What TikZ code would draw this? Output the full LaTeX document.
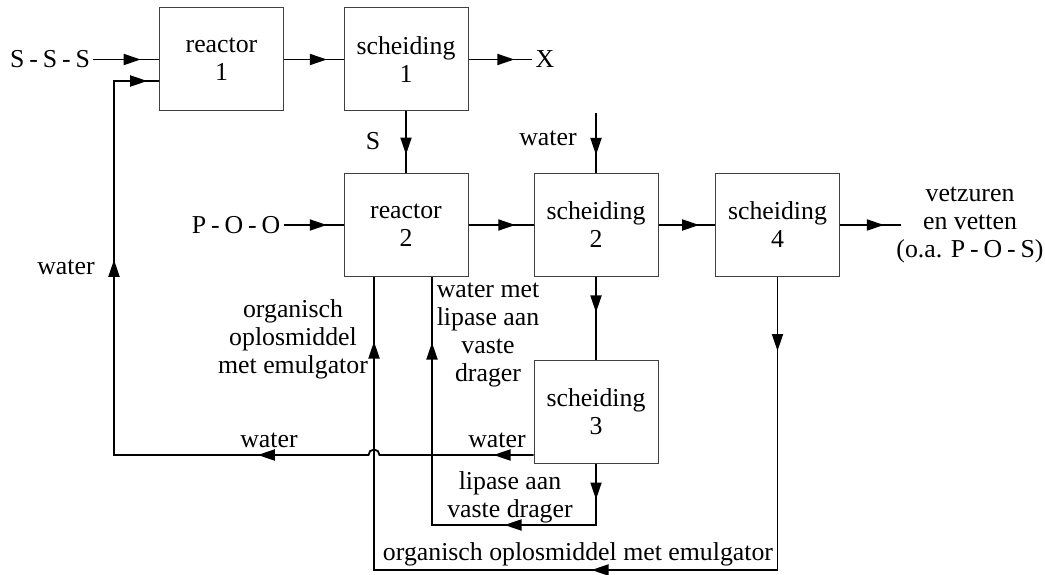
\documentclass[tikz,border=0pt]{standalone}
\usepackage{fontspec}
\setmainfont{Liberation Serif}
\usetikzlibrary{arrows.meta,decorations.markings}
\newcommand\bnd{\hspace{0.19em}-\hspace{0.19em}}

\begin{document}
\begin{tikzpicture}[x=1pt,y=1pt,
    font=\fontsize{25.8}{28}\selectfont,
    unit/.style={draw=black!75,line width=1pt,minimum width=124pt,minimum height=103pt,align=center,inner sep=0pt},
    flow/.style={draw,line width=1.8pt},
    tipat/.style={postaction={decorate,decoration={markings,mark=at position #1 with {\arrow{Triangle[length=17pt,width=11pt]}}}}},
    lbl/.style={align=center}]
	\useasboundingbox (0,0) rectangle (1045,574);
	% units
	\node[unit] (r1) at (221.5,514.5) {reactor\\1};
	\node[unit] (s1) at (406,514.5) {scheiding\\1};
	\node[unit] (r2) at (406,349) {reactor\\2};
	\node[unit] (s2) at (596,349) {scheiding\\2};
	\node[unit] (s4) at (777.5,349) {scheiding\\4};
	\node[unit] (s3) at (596,162.5) {scheiding\\3};
	% labels
	\node (sss) at (50,514.5) {S\bnd S\bnd S};
	\node (x) at (545,514.5) {X};
	\node (s) at (373,433) {S};
	\node (wtr1) at (548,436) {water};
	\node (poo) at (236,349) {P\bnd O\bnd O};
	\node[lbl] (prod) at (970,349) {vetzuren\\en vetten\\(o.a. P\bnd O\bnd S)};
	\node (wtr2) at (66,307) {water};
	\node[lbl] (org1) at (293,235) {organisch\\oplosmiddel\\met emulgator};
	\node[lbl] (wlip) at (488,239) {water met\\lipase aan\\vaste\\drager};
	\node (wtr3) at (269,134) {water};
	\node (wtr4) at (497,134) {water};
	\node[lbl] (lip) at (510,77) {lipase aan\\vaste drager};
	\node[anchor=base] (org2) at (578,14) {organisch oplosmiddel met emulgator};
	% free ends and corners
	\coordinate (wtop) at ([yshift=60pt]s2.north);
	\coordinate (prodin) at ([xshift=61pt]s4.east);
	\coordinate (w3) at (s3.west |- 0,119);
	\coordinate (hopr) at (379.5,119);
	\coordinate (wl) at (114,119);
	\coordinate (wr1) at (114,493);
	\coordinate (bl) at (374,4);
	\coordinate (ll) at (432,49);
	% main line
	\draw[flow,tipat=0.72] (sss.east) -- (r1.west);
	\draw[flow,tipat=0.72] (r1.east) -- (s1.west);
	\draw[flow,tipat=0.72] (s1.east) -- (x.west);
	\draw[flow,tipat=0.7] (s1.south) -- (r2.north);
	\draw[flow,tipat=0.7] (wtop) -- (s2.north);
	\draw[flow,tipat=0.72] (poo.east) -- (r2.west);
	\draw[flow,tipat=0.72] (r2.east) -- (s2.west);
	\draw[flow,tipat=0.72] (s2.east) -- (s4.west);
	\draw[flow,tipat=0.72] (s4.east) -- (prodin);
	\draw[flow,tipat=0.43] (s2.south) -- (s3.north);
	% recycle loops
	\draw[flow,tipat=74pt,tipat=479pt,tipat=925pt] (s4.south) -- (s4.south |- bl) -- (bl) -- (bl |- r2.south);
	\draw[flow,tipat=40pt,tipat=282pt,tipat=621pt,tipat=833pt] (w3) -- (hopr) arc[start angle=0,end angle=180,radius=5.5pt] -- (wl) -- (wr1) -- (r1.west |- wr1);
	\draw[flow,tipat=36pt,tipat=153pt,tipat=408pt] (s3.south) -- (s3.south |- ll) -- (ll) -- (ll |- r2.south);
\end{tikzpicture}
\end{document}
